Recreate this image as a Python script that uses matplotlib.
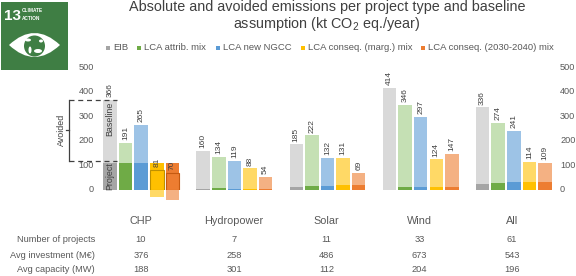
"""Absolute and avoided emissions per project type, with the SDG 13 badge."""
from __future__ import annotations

import matplotlib

matplotlib.use("Agg")
import matplotlib.pyplot as plt
from matplotlib.patches import Circle, Ellipse, PathPatch, Rectangle
from matplotlib.path import Path

plt.rcParams["font.family"] = ["Liberation Sans", "DejaVu Sans"]
plt.rcParams["mathtext.fontset"] = "custom"
plt.rcParams["mathtext.rm"] = "Liberation Sans"
plt.rcParams["mathtext.default"] = "rm"

W, H = 576, 276
TEXT = "#595959"

groups = ["CHP", "Hydropower", "Solar", "Wind", "All"]
series = [
    "EIB",
    "LCA attrib. mix",
    "LCA new NGCC",
    "LCA conseq. (marg.) mix",
    "LCA conseq. (2030-2040) mix",
]
dark = ["#A5A5A5", "#6FAB46", "#5B9BD5", "#FFC000", "#ED7D31"]
light = ["#D9D9D9", "#C5E0B4", "#9DC3E6", "#FFD966", "#F4B183"]

# Height of the pale bar and its label
totals = [
    [366, 191, 265, 81, 70],
    [160, 134, 119, 88, 54],
    [185, 222, 132, 131, 69],
    [414, 346, 297, 124, 147],
    [336, 274, 241, 114, 109],
]
# CHP conseq. bars: project emissions are above the net value, pale part hangs below 0
pale_bottoms = {(0, 3): -29, (0, 4): -41}
# Project emissions: the dark base of each bar
project = [
    [110, 110, 110, 110, 110],
    [3, 7, 6, 6, 6],
    [13, 16, 16, 19, 19],
    [0, 11, 11, 13, 13],
    [23, 27, 31, 31, 31],
]
y_ticks = [0, 100, 200, 300, 400, 500]
table_rows = ["Number of projects", "Avg investment (M€)", "Avg capacity (MW)"]
n_projects = [10, 7, 11, 33, 61]
avg_investment = [376, 258, 486, 673, 543]
avg_capacity = [188, 301, 112, 204, 196]


def main() -> None:
    fig = plt.figure(figsize=(W / 100, H / 100), dpi=100)

    # full-figure axes in pixel coordinates, for the table, badge and notes
    page = fig.add_axes([0, 0, 1, 1])
    page.set_xlim(0, W)
    page.set_ylim(H, 0)
    page.axis("off")

    # data axes: 0 at y=190px, 500 at y=67px; x runs in pixels
    ax = fig.add_axes([0, (H - 190) / H, 1, 123 / H])
    ax.set_xlim(0, W)
    ax.set_ylim(0, 500)
    ax.axis("off")
    ax.patch.set_alpha(0)

    bar_w = 13.5
    for g, vals in enumerate(totals):
        for s, total in enumerate(vals):
            x = 110 + 93.15 * g + 15.6 * s
            if (g, s) in pale_bottoms:
                low = pale_bottoms[(g, s)]
                ax.bar(x, -low, bar_w, bottom=low, color=light[s], lw=0, clip_on=False, zorder=2)
                # outlined box shows the net value
                ax.add_patch(Rectangle((x - bar_w / 2, 0), bar_w, total, fill=False,
                                       ec="#C55A11" if s == 4 else "#BF9000", lw=0.8, zorder=4))
            else:
                ax.bar(x, total - project[g][s], bar_w, bottom=project[g][s],
                       color=light[s], lw=0, clip_on=False, zorder=2)
            ax.bar(x, project[g][s], bar_w, color=dark[s], lw=0, zorder=3)
            ax.annotate(str(total), (x, total), xytext=(0, 2), textcoords="offset points",
                        rotation=90, ha="center", va="bottom", fontsize=6, color="#404040",
                        annotation_clip=False, zorder=5)

    for tick in y_ticks:
        ax.text(94, tick, str(tick), ha="right", va="center", fontsize=6.6, color=TEXT, clip_on=False)
        ax.text(560, tick, str(tick), ha="left", va="center", fontsize=6.6, color=TEXT, clip_on=False)

    # project / baseline markers on the first bar
    ax.text(110, 288, "Baseline", rotation=90, ha="center", va="center", fontsize=6.4, color="#404040", zorder=6)
    ax.text(110, 57, "Project", rotation=90, ha="center", va="center", fontsize=6.4, color="#404040", zorder=6)
    ax.plot([69, 117], [367, 367], color="#404040", lw=0.9, ls=(0, (4, 3)), zorder=6)
    ax.plot([69, 117], [119, 119], color="#404040", lw=0.9, ls=(0, (4, 3)), zorder=6)
    ax.plot([69, 69], [119, 367], color="#404040", lw=0.9, zorder=6)
    ax.plot([66, 69], [243, 243], color="#404040", lw=0.9, zorder=6)
    ax.text(61, 243, "Avoided", rotation=90, ha="center", va="center", fontsize=6.4, color="#404040")

    page.text(327, 7, "Absolute and avoided emissions per project type and baseline",
              ha="center", va="center", fontsize=10.4, color="#404040")
    page.text(327, 24, "assumption (kt CO$_2$ eq./year)",
              ha="center", va="center", fontsize=10.4, color="#404040")

    # legend drawn by hand so each entry sits where the reference has it
    legend_x = [106, 137, 216, 301, 421]
    for name, col, x in zip(series, dark, legend_x):
        page.add_patch(Rectangle((x, 45.5), 4, 4, color=col, lw=0))
        page.text(x + 7, 47.5, name, ha="left", va="center", fontsize=6.8, color=TEXT)

    centers = [141, 234, 326.5, 419.5, 512]
    for x, name, a, b, c in zip(centers, groups, n_projects, avg_investment, avg_capacity):
        page.text(x, 221, name, ha="center", va="center", fontsize=7.8, color=TEXT)
        page.text(x, 240, str(a), ha="center", va="center", fontsize=6.7, color=TEXT)
        page.text(x, 255, str(b), ha="center", va="center", fontsize=6.7, color=TEXT)
        page.text(x, 270, str(c), ha="center", va="center", fontsize=6.7, color=TEXT)
    for y, row in zip([240, 255, 270], table_rows):
        page.text(95, y, row, ha="right", va="center", fontsize=6.7, color=TEXT)

    # SDG 13 badge
    green = "#3F7E44"
    page.add_patch(Rectangle((1, 2), 67, 68, color=green, lw=0))
    page.text(4, 15.5, "13", ha="left", va="center", fontsize=11, color="white", weight="bold")
    page.text(22, 11, "CLIMATE", ha="left", va="center", fontsize=3.4, color="white", weight="bold")
    page.text(22, 19, "ACTION", ha="left", va="center", fontsize=3.4, color="white", weight="bold")
    eye = Path([(9, 45), (34.5, 21), (60, 45), (34.5, 69), (9, 45)],
               [Path.MOVETO, Path.CURVE3, Path.CURVE3, Path.CURVE3, Path.CURVE3])
    page.add_patch(PathPatch(eye, fc="white", ec="none"))
    page.add_patch(Circle((34.5, 46), 10.5, fc=green, ec="none"))
    # rough oceans on the globe
    for cx, cy, w, h in [(28, 40, 6, 3), (38, 51, 8, 4), (30, 50, 3, 7), (41, 41, 4, 3)]:
        page.add_patch(Ellipse((cx, cy), w, h, fc="white", ec="none"))

    fig.savefig("out.png", dpi=100)


if __name__ == "__main__":
    main()
